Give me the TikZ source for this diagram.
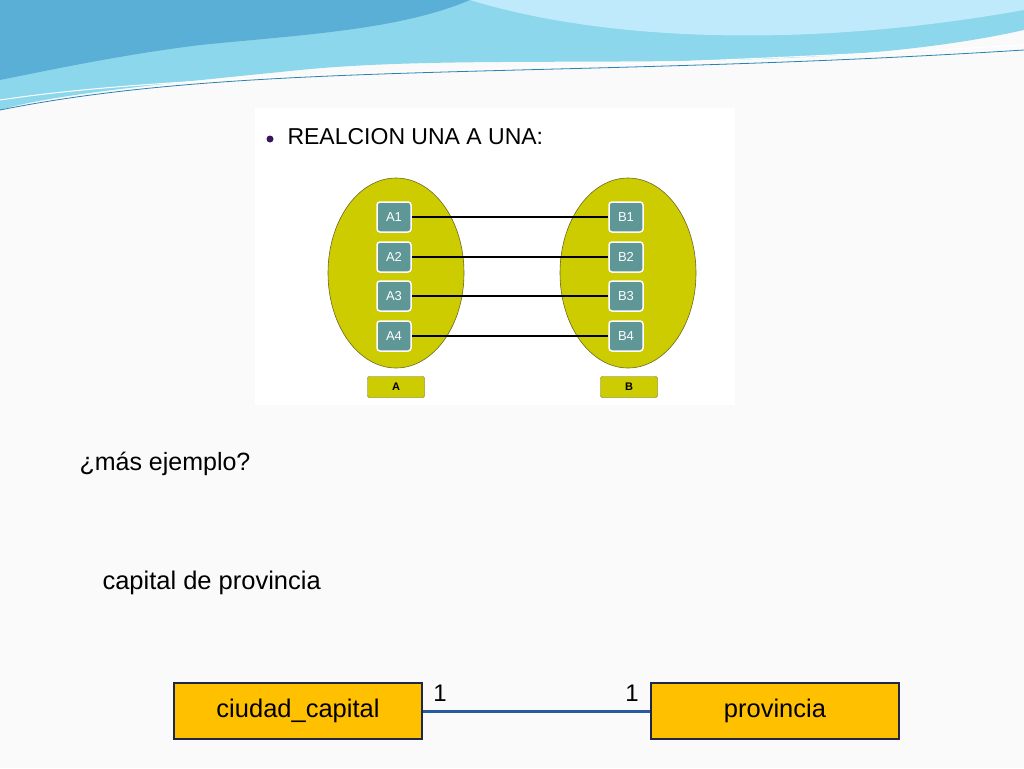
\documentclass[tikz,border=0pt]{standalone}
\usepackage{fontspec}
\setmainfont{Liberation Sans}
\definecolor{olv}{RGB}{204,204,0}
\definecolor{teal2}{RGB}{95,150,150}
\definecolor{entc}{RGB}{255,192,0}
\definecolor{entb}{RGB}{30,40,70}
\definecolor{bn1}{RGB}{140,215,235}
\definecolor{bn2}{RGB}{90,175,215}
\definecolor{bn3}{RGB}{40,130,180}
\definecolor{bul}{RGB}{60,20,100}
\definecolor{lnk}{RGB}{40,90,160}
\begin{document}
\begin{tikzpicture}[x=1pt,y=-1pt,
  ell/.style={draw=olive!70!black,fill=olv,line width=0.6pt},
  elem/.style={draw=white,line width=1.5pt,fill=teal2,rounded corners=3pt,minimum width=34pt,minimum height=30pt,text=white,font=\fontsize{13}{14}\selectfont},
  lab/.style={draw=olive!70!black,fill=olv,rounded corners=2pt,minimum width=57pt,minimum height=21pt,font=\bfseries\fontsize{11}{12}\selectfont},
  link/.style={line width=1.5pt,black},
  ent/.style={draw=entb,line width=1.2pt,fill=entc,minimum width=248pt,minimum height=56pt,font=\fontsize{25.5}{28}\selectfont}]
\useasboundingbox (0,0) rectangle (1024,768);
\fill[white!96!gray] (0,0) rectangle (1024,768);
% banner
\fill[bn1] (0,0) -- (1024,0) -- (1024,30) .. controls (800,80) and (500,50) .. (300,70) .. controls (150,85) and (50,95) .. (0,110) -- cycle;
\fill[bn2] (0,0) -- (470,0) .. controls (400,30) and (300,35) .. (200,45) .. controls (120,55) and (50,70) .. (0,80) -- cycle;
\fill[white!75!cyan] (470,0) .. controls (600,40) and (800,50) .. (1024,10) -- (1024,0) -- cycle;
\draw[white,line width=1pt] (0,100) .. controls (200,70) and (500,75) .. (1024,45);
\draw[bn3,line width=0.8pt] (0,110) .. controls (250,60) and (550,80) .. (1024,50);
% panel
\fill[white] (255,108) rectangle (735,405);
\fill[bul] (270,139) circle (3.5);
\node[anchor=west,font=\fontsize{23}{24}\selectfont] (title) at (284,137) {REALCION UNA A UNA:};
\draw[ell] (396,273) ellipse (68 and 95);
\draw[ell] (628,273) ellipse (68 and 95);
\foreach \i/\y in {1/217,2/257,3/296,4/336}{
  \node[elem] (A\i) at (394,\y) {A\i};
  \node[elem] (B\i) at (626,\y) {B\i};
  \draw[link] (A\i.east) -- (B\i.west);
}
\node[lab] (LA) at (396,387) {A};
\node[lab] (LB) at (629,387) {B};
% texts
\node[anchor=west,font=\fontsize{25}{28}\selectfont] (q) at (76,464) {¿más ejemplo?};
\node[anchor=west,font=\fontsize{25.5}{28}\selectfont] (cp) at (99,583) {capital de provincia};
\node[ent] (cc) at (298,711) {ciudad\_capital};
\node[ent] (pr) at (775,711) {provincia};
\draw[lnk,line width=3pt] (cc.east) -- (pr.west);
\node[font=\fontsize{24}{26}\selectfont] (n1) at (440,693) {1};
\node[font=\fontsize{24}{26}\selectfont] (n2) at (632,693) {1};
\end{tikzpicture}
\end{document}
